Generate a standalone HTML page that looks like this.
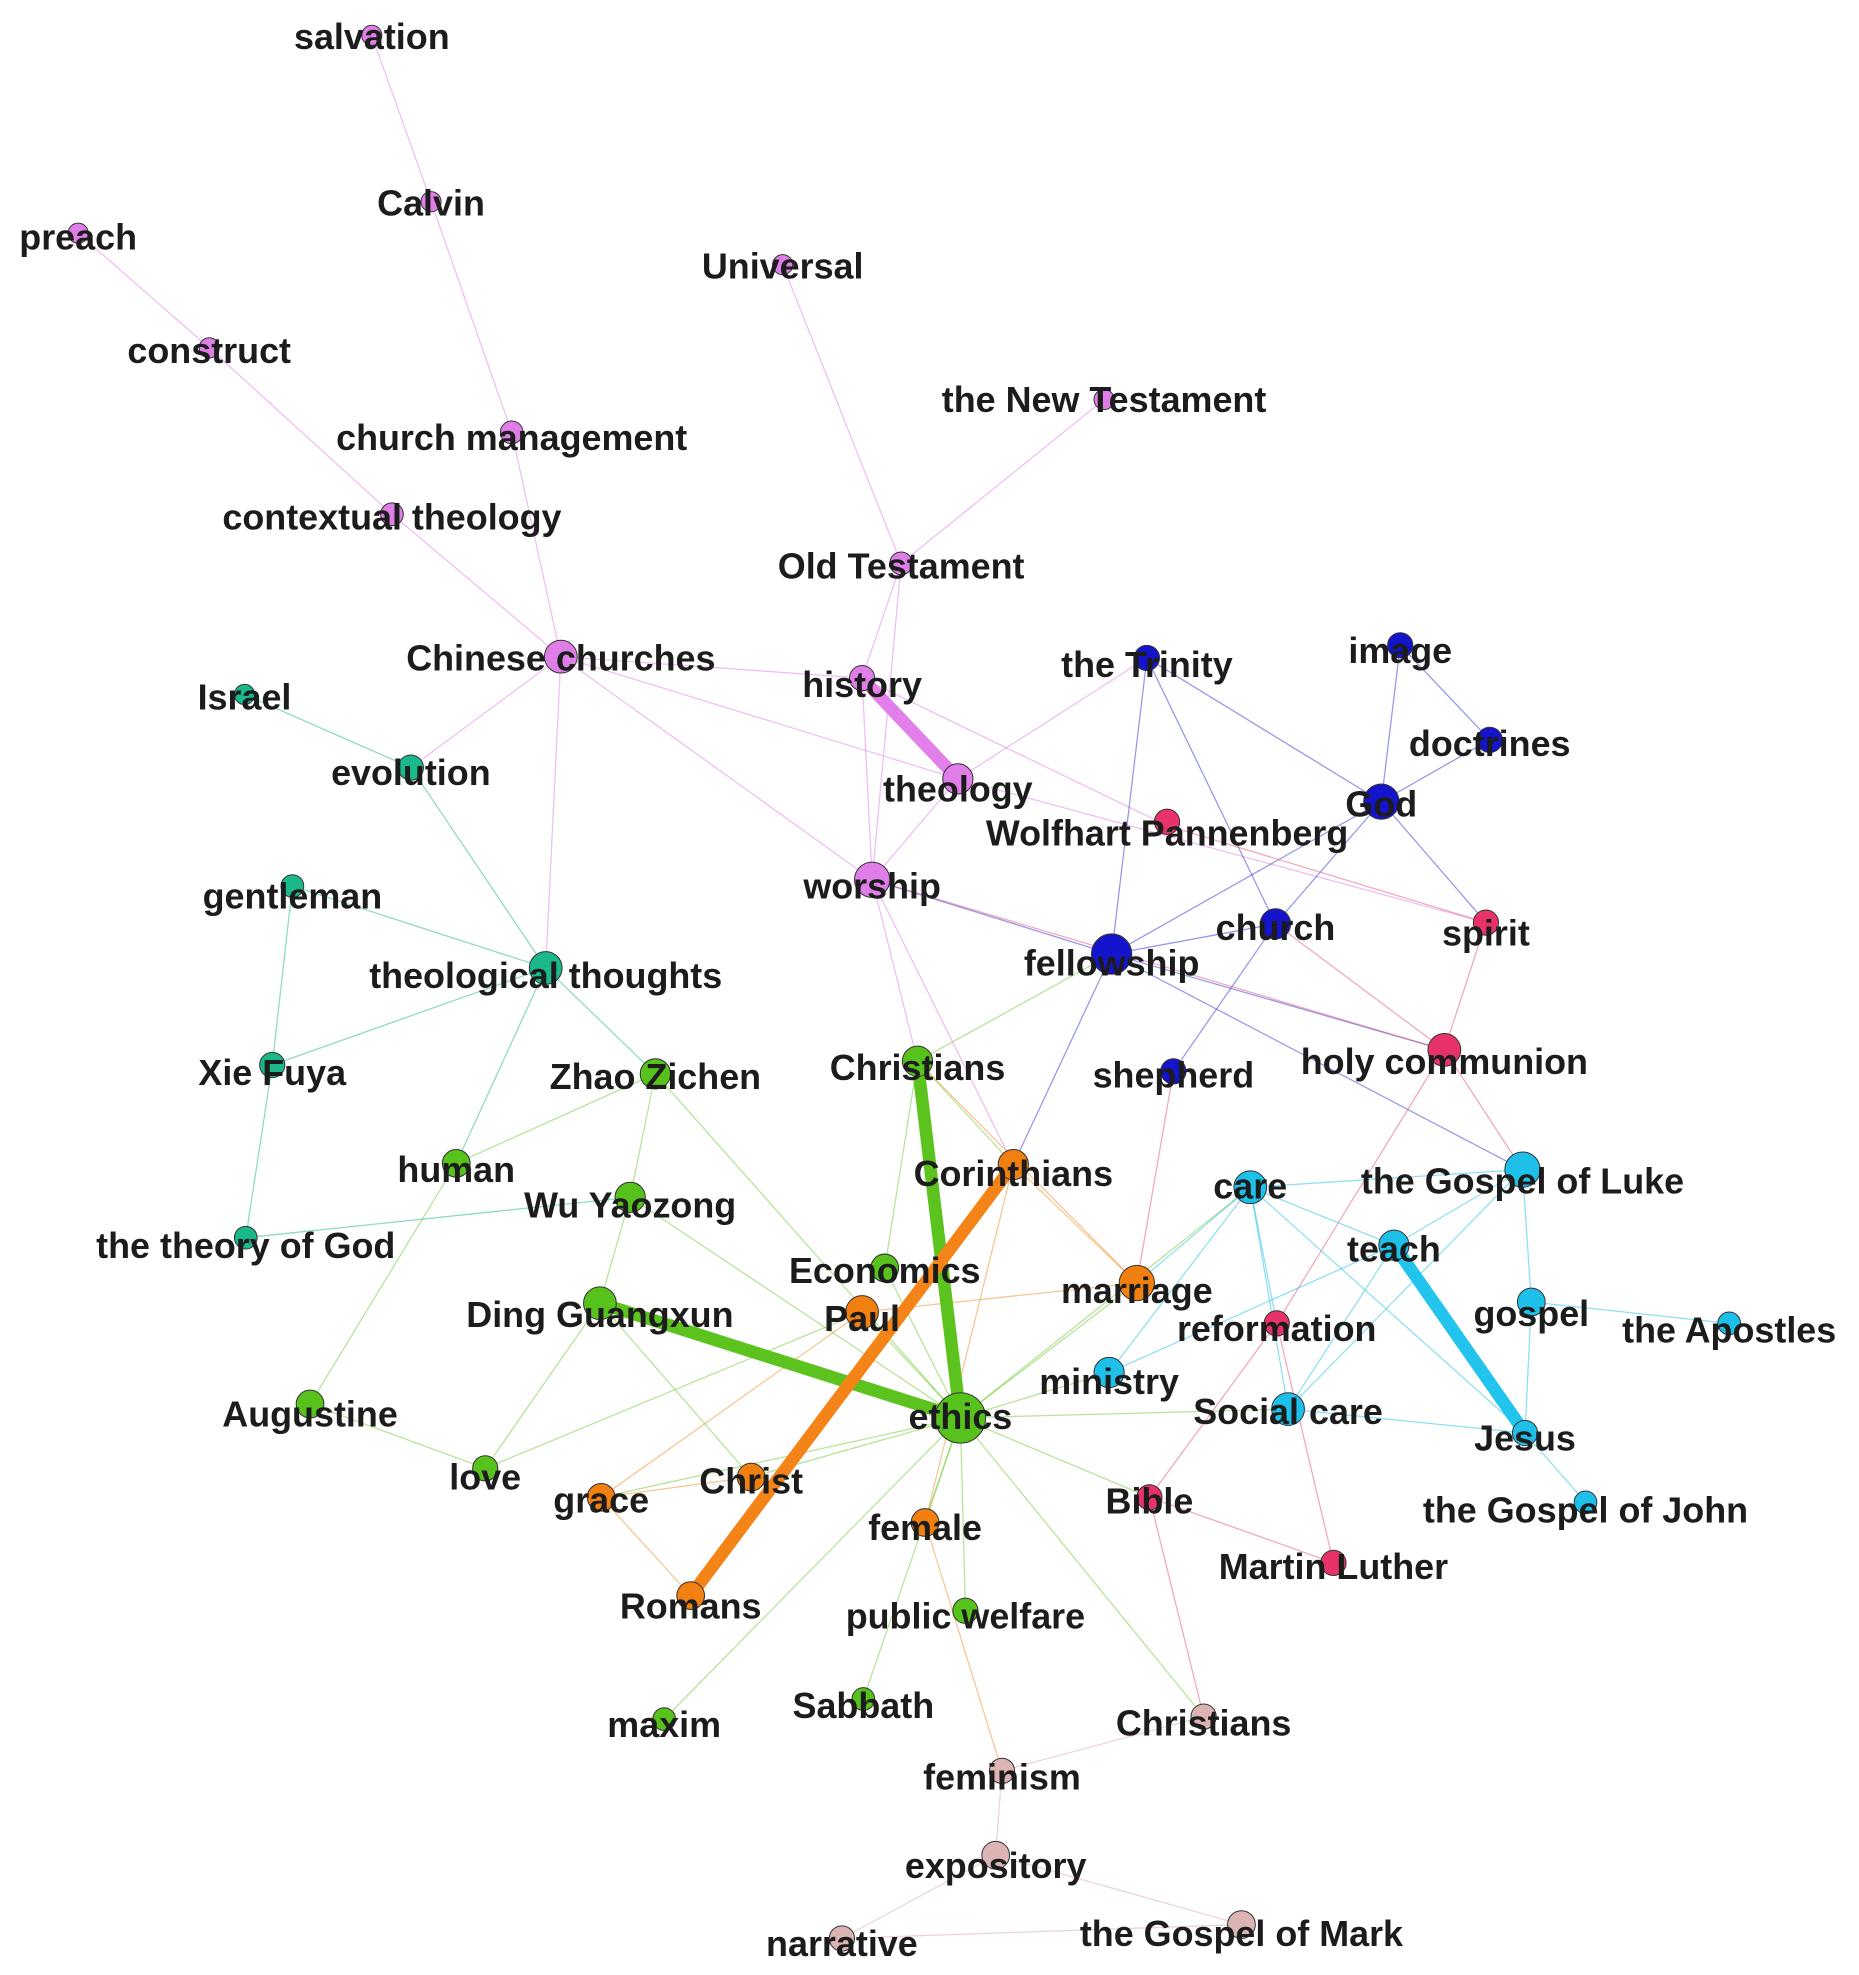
<!DOCTYPE html>
<html><head><meta charset="utf-8"><style>
html,body{margin:0;padding:0;background:#fff;}
svg{display:block}
text{font-family:"Liberation Sans",Arial,sans-serif;font-weight:bold;font-size:28.5px;fill:#1c1c1c;text-anchor:middle}
.e line{stroke-width:1;opacity:.5}
circle{stroke:#333;stroke-width:.8}
</style></head><body>
<svg width="1859" height="1975" viewBox="0 0 1475 1567" xmlns="http://www.w3.org/2000/svg">
<g class="e">
<g stroke="#e07ee8">
<line x1="295" y1="28" x2="342" y2="160"/>
<line x1="342" y1="160" x2="406" y2="343"/>
<line x1="406" y1="343" x2="445" y2="521"/>
<line x1="62" y1="185" x2="166" y2="276"/>
<line x1="166" y1="276" x2="311" y2="408"/>
<line x1="311" y1="408" x2="445" y2="521"/>
<line x1="621" y1="210" x2="715" y2="447"/>
<line x1="876" y1="317" x2="715" y2="447"/>
<line x1="715" y1="447" x2="684" y2="538"/>
<line x1="715" y1="447" x2="692" y2="698"/>
<line x1="445" y1="521" x2="684" y2="538"/>
<line x1="445" y1="521" x2="760" y2="618"/>
<line x1="445" y1="521" x2="692" y2="698"/>
<line x1="445" y1="521" x2="326" y2="609"/>
<line x1="445" y1="521" x2="433" y2="768"/>
<line x1="684" y1="538" x2="692" y2="698"/>
<line x1="760" y1="618" x2="692" y2="698"/>
<line x1="760" y1="618" x2="910" y2="522"/>
<line x1="760" y1="618" x2="1179" y2="732"/>
<line x1="684" y1="538" x2="926" y2="655"/>
<line x1="692" y1="698" x2="728" y2="842"/>
<line x1="692" y1="698" x2="804" y2="924"/>
</g>
<g stroke="#1ab88a">
<line x1="194" y1="551" x2="326" y2="609"/>
<line x1="326" y1="609" x2="433" y2="768"/>
<line x1="232" y1="703" x2="433" y2="768"/>
<line x1="232" y1="703" x2="216" y2="845"/>
<line x1="216" y1="845" x2="433" y2="768"/>
<line x1="216" y1="845" x2="195" y2="982"/>
<line x1="433" y1="768" x2="362" y2="923"/>
<line x1="433" y1="768" x2="520" y2="852"/>
<line x1="195" y1="982" x2="500" y2="950"/>
</g>
<g stroke="#70c830">
<line x1="520" y1="852" x2="500" y2="950"/>
<line x1="500" y1="950" x2="476" y2="1034"/>
<line x1="520" y1="852" x2="362" y2="923"/>
<line x1="520" y1="852" x2="762" y2="1125"/>
<line x1="362" y1="923" x2="246" y2="1114"/>
<line x1="246" y1="1114" x2="385" y2="1165"/>
<line x1="385" y1="1165" x2="476" y2="1034"/>
<line x1="385" y1="1165" x2="684" y2="1041"/>
<line x1="476" y1="1034" x2="596" y2="1172"/>
<line x1="762" y1="1125" x2="702" y2="1006"/>
<line x1="762" y1="1125" x2="684" y2="1041"/>
<line x1="762" y1="1125" x2="527" y2="1364"/>
<line x1="762" y1="1125" x2="685" y2="1348"/>
<line x1="762" y1="1125" x2="766" y2="1278"/>
<line x1="762" y1="1125" x2="734" y2="1208"/>
<line x1="762" y1="1125" x2="596" y2="1172"/>
<line x1="762" y1="1125" x2="477" y2="1188"/>
<line x1="762" y1="1125" x2="902" y2="1018"/>
<line x1="762" y1="1125" x2="880" y2="1089"/>
<line x1="762" y1="1125" x2="1022" y2="1118"/>
<line x1="762" y1="1125" x2="912" y2="1188"/>
<line x1="762" y1="1125" x2="955" y2="1362"/>
<line x1="762" y1="1125" x2="992" y2="942"/>
<line x1="762" y1="1125" x2="500" y2="950"/>
<line x1="728" y1="842" x2="882" y2="757"/>
<line x1="728" y1="842" x2="804" y2="924"/>
<line x1="702" y1="1006" x2="728" y2="842"/>
</g>
<g stroke="#3030d8">
<line x1="910" y1="522" x2="882" y2="757"/>
<line x1="910" y1="522" x2="1096" y2="636"/>
<line x1="910" y1="522" x2="1012" y2="733"/>
<line x1="1111" y1="512" x2="1096" y2="636"/>
<line x1="1111" y1="512" x2="1182" y2="587"/>
<line x1="1182" y1="587" x2="1096" y2="636"/>
<line x1="1096" y1="636" x2="882" y2="757"/>
<line x1="1096" y1="636" x2="1012" y2="733"/>
<line x1="1096" y1="636" x2="1179" y2="732"/>
<line x1="1012" y1="733" x2="931" y2="850"/>
<line x1="882" y1="757" x2="692" y2="698"/>
<line x1="882" y1="757" x2="1012" y2="733"/>
<line x1="882" y1="757" x2="1146" y2="833"/>
<line x1="882" y1="757" x2="804" y2="924"/>
<line x1="882" y1="757" x2="1208" y2="928"/>
</g>
<g stroke="#e8507a">
<line x1="926" y1="655" x2="1179" y2="732"/>
<line x1="1179" y1="732" x2="1146" y2="833"/>
<line x1="1146" y1="833" x2="1012" y2="733"/>
<line x1="1146" y1="833" x2="1013" y2="1050"/>
<line x1="1146" y1="833" x2="1208" y2="928"/>
<line x1="1146" y1="833" x2="692" y2="698"/>
<line x1="1013" y1="1050" x2="1058" y2="1240"/>
<line x1="1013" y1="1050" x2="912" y2="1188"/>
<line x1="912" y1="1188" x2="955" y2="1362"/>
<line x1="912" y1="1188" x2="1058" y2="1240"/>
<line x1="931" y1="850" x2="902" y2="1018"/>
</g>
<g stroke="#1ec0ea">
<line x1="992" y1="942" x2="1208" y2="928"/>
<line x1="992" y1="942" x2="1106" y2="988"/>
<line x1="992" y1="942" x2="1022" y2="1118"/>
<line x1="992" y1="942" x2="1013" y2="1050"/>
<line x1="992" y1="942" x2="1210" y2="1137"/>
<line x1="992" y1="942" x2="880" y2="1089"/>
<line x1="992" y1="942" x2="902" y2="1018"/>
<line x1="1106" y1="988" x2="1208" y2="928"/>
<line x1="1106" y1="988" x2="1022" y2="1118"/>
<line x1="1215" y1="1033" x2="1208" y2="928"/>
<line x1="1215" y1="1033" x2="1372" y2="1050"/>
<line x1="1215" y1="1033" x2="1210" y2="1137"/>
<line x1="1208" y1="928" x2="1022" y2="1118"/>
<line x1="1022" y1="1118" x2="1210" y2="1137"/>
<line x1="1210" y1="1137" x2="1258" y2="1192"/>
<line x1="880" y1="1089" x2="1106" y2="988"/>
</g>
<g stroke="#f28c28">
<line x1="804" y1="924" x2="902" y2="1018"/>
<line x1="684" y1="1041" x2="902" y2="1018"/>
<line x1="684" y1="1041" x2="477" y2="1188"/>
<line x1="477" y1="1188" x2="548" y2="1266"/>
<line x1="596" y1="1172" x2="477" y2="1188"/>
<line x1="734" y1="1208" x2="795" y2="1405"/>
<line x1="804" y1="924" x2="734" y2="1208"/>
<line x1="728" y1="842" x2="902" y2="1018"/>
</g>
<g stroke="#d8a8a8">
<line x1="795" y1="1405" x2="955" y2="1362"/>
<line x1="795" y1="1405" x2="790" y2="1472"/>
<line x1="790" y1="1472" x2="668" y2="1538"/>
<line x1="790" y1="1472" x2="985" y2="1527"/>
<line x1="668" y1="1538" x2="985" y2="1527"/>
</g>
</g>
<line x1="684" y1="538" x2="760" y2="618" stroke="#e27fea" stroke-width="10"/>
<line x1="728" y1="842" x2="762" y2="1125" stroke="#5cc21e" stroke-width="10"/>
<line x1="476" y1="1034" x2="762" y2="1125" stroke="#5cc21e" stroke-width="10"/>
<line x1="804" y1="924" x2="548" y2="1266" stroke="#f58418" stroke-width="10"/>
<line x1="1106" y1="988" x2="1210" y2="1137" stroke="#22c4ee" stroke-width="10"/>
<g fill="#e07ee8">
<circle cx="295" cy="28" r="8"/><circle cx="342" cy="160" r="8"/><circle cx="62" cy="185" r="8"/><circle cx="166" cy="276" r="8"/><circle cx="406" cy="343" r="9"/><circle cx="311" cy="408" r="9"/><circle cx="621" cy="210" r="8"/><circle cx="876" cy="317" r="8"/><circle cx="715" cy="447" r="9"/><circle cx="445" cy="521" r="13"/><circle cx="684" cy="538" r="10"/><circle cx="760" cy="618" r="12"/><circle cx="692" cy="698" r="14"/>
</g>
<g fill="#1ab88a">
<circle cx="194" cy="551" r="8"/><circle cx="326" cy="609" r="10"/><circle cx="232" cy="703" r="9"/><circle cx="433" cy="768" r="13"/><circle cx="216" cy="845" r="10"/><circle cx="195" cy="982" r="9"/>
</g>
<g fill="#1414cc">
<circle cx="910" cy="522" r="10"/><circle cx="1111" cy="512" r="10"/><circle cx="1182" cy="587" r="10"/><circle cx="1096" cy="636" r="14"/><circle cx="1012" cy="733" r="12"/><circle cx="882" cy="757" r="16"/><circle cx="931" cy="850" r="10"/>
</g>
<g fill="#e8336a">
<circle cx="926" cy="652" r="10"/><circle cx="1179" cy="732" r="10"/><circle cx="1146" cy="833" r="13"/><circle cx="1013" cy="1050" r="10"/><circle cx="912" cy="1188" r="10"/><circle cx="1058" cy="1240" r="10"/>
</g>
<g fill="#1ec0ea">
<circle cx="992" cy="942" r="13"/><circle cx="1208" cy="928" r="14"/><circle cx="1106" cy="988" r="12"/><circle cx="1215" cy="1033" r="11"/><circle cx="1372" cy="1050" r="9"/><circle cx="880" cy="1089" r="12"/><circle cx="1022" cy="1118" r="13"/><circle cx="1210" cy="1137" r="10"/><circle cx="1258" cy="1192" r="9"/>
</g>
<g fill="#58c21c">
<circle cx="728" cy="842" r="12"/><circle cx="520" cy="852" r="12"/><circle cx="362" cy="923" r="11"/><circle cx="500" cy="950" r="12"/><circle cx="702" cy="1006" r="11"/><circle cx="476" cy="1034" r="13"/><circle cx="762" cy="1125" r="20"/><circle cx="246" cy="1114" r="11"/><circle cx="385" cy="1165" r="10"/><circle cx="766" cy="1278" r="10"/><circle cx="685" cy="1348" r="9"/><circle cx="527" cy="1364" r="9"/>
</g>
<g fill="#f28010">
<circle cx="804" cy="924" r="12"/><circle cx="902" cy="1018" r="14"/><circle cx="684" cy="1041" r="13"/><circle cx="477" cy="1188" r="11"/><circle cx="596" cy="1172" r="11"/><circle cx="734" cy="1208" r="11"/><circle cx="548" cy="1266" r="11"/>
</g>
<g fill="#dcb4b4">
<circle cx="955" cy="1362" r="10"/><circle cx="795" cy="1405" r="10"/><circle cx="790" cy="1472" r="11"/><circle cx="668" cy="1538" r="10"/><circle cx="985" cy="1527" r="11"/>
</g>
<text x="295" y="39">salvation</text>
<text x="342" y="171">Calvin</text>
<text x="62" y="198">preach</text>
<text x="166" y="288">construct</text>
<text x="406" y="357">church management</text>
<text x="311" y="420">contextual theology</text>
<text x="621" y="221">Universal</text>
<text x="876" y="327">the New Testament</text>
<text x="715" y="459">Old Testament</text>
<text x="445" y="532">Chinese churches</text>
<text x="684" y="553">history</text>
<text x="760" y="636">theology</text>
<text x="692" y="713">worship</text>
<text x="194" y="563">Israel</text>
<text x="326" y="623">evolution</text>
<text x="232" y="721">gentleman</text>
<text x="433" y="784">theological thoughts</text>
<text x="216" y="861">Xie Fuya</text>
<text x="195" y="998">the theory of God</text>
<text x="910" y="537">the Trinity</text>
<text x="1111" y="526">image</text>
<text x="1182" y="600">doctrines</text>
<text x="1096" y="648">God</text>
<text x="926" y="671">Wolfhart Pannenberg</text>
<text x="1012" y="746">church</text>
<text x="1179" y="750">spirit</text>
<text x="882" y="774">fellowship</text>
<text x="931" y="863">shepherd</text>
<text x="1146" y="852">holy communion</text>
<text x="728" y="857">Christians</text>
<text x="520" y="864">Zhao Zichen</text>
<text x="804" y="941">Corinthians</text>
<text x="362" y="938">human</text>
<text x="500" y="966">Wu Yaozong</text>
<text x="992" y="951">care</text>
<text x="1208" y="947">the Gospel of Luke</text>
<text x="1106" y="1001">teach</text>
<text x="702" y="1018">Economics</text>
<text x="902" y="1034">marriage</text>
<text x="476" y="1053">Ding Guangxun</text>
<text x="684" y="1056">Paul</text>
<text x="1215" y="1052">gospel</text>
<text x="1013" y="1064">reformation</text>
<text x="1372" y="1065">the Apostles</text>
<text x="880" y="1106">ministry</text>
<text x="246" y="1132">Augustine</text>
<text x="762" y="1134">ethics</text>
<text x="1022" y="1130">Social care</text>
<text x="1210" y="1151">Jesus</text>
<text x="385" y="1182">love</text>
<text x="596" y="1185">Christ</text>
<text x="477" y="1200">grace</text>
<text x="912" y="1201">Bible</text>
<text x="1258" y="1208">the Gospel of John</text>
<text x="734" y="1222">female</text>
<text x="1058" y="1253">Martin Luther</text>
<text x="548" y="1284">Romans</text>
<text x="766" y="1292">public welfare</text>
<text x="685" y="1363">Sabbath</text>
<text x="527" y="1378">maxim</text>
<text x="955" y="1377">Christians</text>
<text x="795" y="1420">feminism</text>
<text x="790" y="1490">expository</text>
<text x="668" y="1552">narrative</text>
<text x="985" y="1544">the Gospel of Mark</text>
</svg>
</body></html>
